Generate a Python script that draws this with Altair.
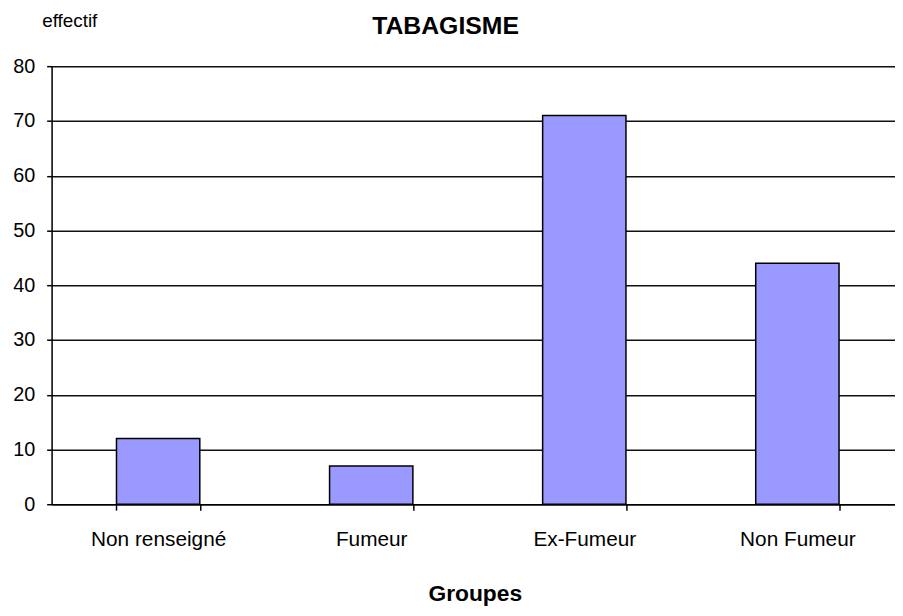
import altair as alt
import pandas as pd

categories = ["Non renseigné", "Fumeur", "Ex-Fumeur", "Non Fumeur"]
values = [12, 7, 71, 44]
y_ticks = [0, 10, 20, 30, 40, 50, 60, 70, 80]

df = pd.DataFrame({"Groupe": categories, "effectif": values})

FONT = "Liberation Sans"

bars = alt.Chart(df).mark_bar(
    color="#9999FF", stroke="#000000", strokeWidth=1.5
).encode(
    x=alt.X(
        "Groupe:N",
        sort=categories,
        scale=alt.Scale(range=[0, 860], paddingInner=0.609, paddingOuter=0.3045),
        axis=alt.Axis(
            title="Groupes",
            titleFont=FONT, titleFontSize=23, titleFontWeight="bold", titleColor="#000",
            titleY=97, titleBaseline="alphabetic", titleX=427,
            labelFont=FONT, labelFontSize=21, labelColor="#000", labelAngle=0,
            labelPadding=19,
            tickBand="extent", tickSize=6, tickColor="#000", tickWidth=1.5,
            domainColor="#000", domainWidth=1.5, grid=False,
        ),
    ),
    y=alt.Y(
        "effectif:Q",
        scale=alt.Scale(domain=[0, 80], nice=False),
        axis=alt.Axis(
            values=y_ticks,
            title="effectif",
            titleAngle=0, titleAlign="left", titleBaseline="alphabetic",
            titleX=-10, titleY=-40,
            titleFont=FONT, titleFontSize=19, titleFontWeight="normal", titleColor="#000",
            labelFont=FONT, labelFontSize=20, labelColor="#000",
            labelPadding=12, tickSize=5, tickColor="#000", tickWidth=1.5,
            domainColor="#000", domainWidth=1.5,
            grid=True, gridColor="#111", gridWidth=1.5,
        ),
    ),
)

chart = bars.properties(
    width=851,
    height=442,
    autosize=alt.AutoSizeParams(type="none"),
    padding={"left": 44, "top": 56, "right": 0, "bottom": 100},
    title=alt.TitleParams(
        "TABAGISME", font=FONT, fontSize=25, fontWeight="bold", color="#000",
        anchor="middle", frame="group", dx=-28, dy=52, baseline="alphabetic",
    ),
).configure_view(stroke=None).configure(background="white")

chart.save("out.html", embed_options={"renderer": "svg", "actions": False})
